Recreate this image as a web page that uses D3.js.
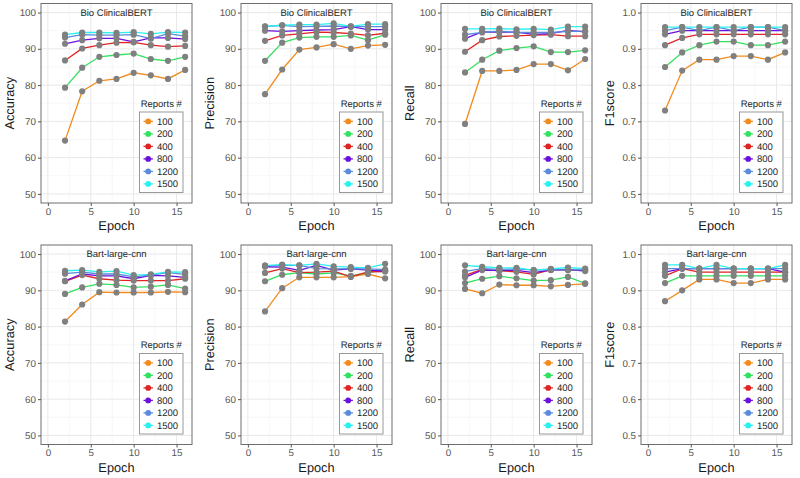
<!DOCTYPE html>
<html>
<head>
<meta charset="utf-8">
<script src="https://cdn.jsdelivr.net/npm/d3@7"></script>
<style>
  body { margin: 0; background: #fff; }
  svg { display: block; font-family: "Liberation Sans", Arial, Helvetica, sans-serif; text-rendering: geometricPrecision; }
</style>
</head>
<body>
<div class="chart"></div>
<script>
// epochs and report sizes shared by all panels
const epochs = [2, 4, 6, 8, 10, 12, 14, 16];
const reportSizes = ["100", "200", "400", "800", "1200", "1500"];
const seriesColors = ["#f28a1e", "#33e060", "#e02424", "#6c10dd", "#5a8add", "#2cf0f0"];

// one row per report size (100, 200, 400, 800, 1200, 1500)
const bioAccuracy = [
  [64.7, 78.3, 81.2, 81.7, 83.4, 82.7, 81.7, 84.2],
  [79.3, 84.8, 87.8, 88.3, 88.7, 87.2, 86.7, 87.8],
  [86.8, 90.1, 91.0, 91.7, 91.8, 91.0, 90.6, 90.8],
  [91.4, 92.4, 92.9, 92.9, 91.9, 93.0, 93.0, 92.7],
  [93.1, 93.9, 93.8, 93.8, 93.9, 92.8, 94.2, 93.5],
  [93.9, 94.5, 94.5, 94.4, 94.6, 94.1, 94.6, 94.5]
];
const bioPrecision = [
  [77.5, 84.3, 89.8, 90.4, 91.3, 90.0, 90.9, 91.1],
  [86.7, 91.7, 93.1, 93.3, 93.3, 93.7, 92.4, 93.9],
  [92.2, 93.7, 94.1, 94.6, 94.5, 94.2, 93.7, 94.3],
  [95.0, 94.8, 95.0, 95.2, 95.3, 96.1, 95.3, 95.3],
  [96.1, 96.5, 96.1, 96.2, 96.3, 96.1, 96.1, 96.1],
  [96.2, 96.5, 96.7, 96.7, 97.0, 96.2, 96.8, 96.8]
];
const bioRecall = [
  [69.3, 83.9, 83.9, 84.2, 85.8, 85.8, 84.1, 87.2],
  [83.5, 87.0, 89.5, 90.2, 90.7, 89.1, 89.1, 89.6],
  [89.2, 92.4, 93.4, 93.6, 93.8, 93.9, 93.5, 93.5],
  [92.8, 94.7, 94.6, 94.6, 94.0, 94.2, 95.1, 94.7],
  [93.9, 94.5, 94.9, 94.5, 94.5, 94.5, 94.8, 94.9],
  [95.5, 95.5, 95.6, 95.4, 95.5, 95.3, 96.1, 96.1]
];
const bioF1 = [
  [0.73, 0.84, 0.87, 0.87, 0.88, 0.88, 0.87, 0.89],
  [0.85, 0.89, 0.91, 0.92, 0.92, 0.91, 0.91, 0.92],
  [0.91, 0.93, 0.94, 0.94, 0.94, 0.94, 0.94, 0.94],
  [0.94, 0.95, 0.95, 0.95, 0.95, 0.95, 0.95, 0.95],
  [0.95, 0.96, 0.95, 0.96, 0.95, 0.96, 0.96, 0.95],
  [0.96, 0.96, 0.96, 0.96, 0.96, 0.96, 0.96, 0.96]
];
const bartAccuracy = [
  [81.4, 86.1, 89.5, 89.4, 89.4, 89.4, 89.6, 89.5],
  [89.0, 90.8, 91.8, 91.5, 90.8, 91.0, 91.5, 90.5],
  [92.5, 94.2, 93.2, 92.8, 92.7, 92.7, 92.7, 93.2],
  [92.6, 94.5, 94.0, 94.0, 93.2, 94.1, 94.0, 93.6],
  [94.6, 95.0, 94.5, 94.5, 93.7, 94.2, 94.9, 94.4],
  [95.4, 95.6, 95.1, 95.3, 94.2, 94.4, 95.1, 95.0]
];
const bartPrecision = [
  [84.2, 90.6, 93.6, 93.6, 93.6, 93.8, 94.5, 93.3],
  [92.5, 94.3, 94.9, 94.5, 94.8, 94.0, 94.9, 95.6],
  [94.8, 96.0, 94.9, 95.0, 95.3, 93.7, 95.1, 95.2],
  [96.5, 96.4, 95.5, 96.9, 95.6, 95.9, 95.6, 95.3],
  [96.8, 96.9, 96.9, 96.0, 95.9, 96.0, 95.9, 95.7],
  [96.8, 97.1, 96.9, 97.3, 96.6, 96.4, 96.2, 97.3]
];
const bartRecall = [
  [90.4, 89.2, 91.6, 91.4, 91.4, 91.1, 91.5, 91.8],
  [92.0, 93.2, 93.9, 93.3, 92.7, 92.8, 93.7, 91.9],
  [94.1, 95.8, 95.4, 95.1, 94.4, 95.7, 95.6, 95.5],
  [93.6, 95.6, 95.5, 95.5, 94.9, 95.6, 95.8, 95.3],
  [95.2, 96.0, 95.8, 95.9, 95.6, 95.7, 95.6, 95.7],
  [96.9, 96.5, 96.2, 96.2, 95.6, 95.9, 96.3, 96.0]
];
const bartF1 = [
  [0.87, 0.90, 0.93, 0.93, 0.92, 0.92, 0.93, 0.93],
  [0.92, 0.94, 0.94, 0.94, 0.94, 0.94, 0.94, 0.94],
  [0.94, 0.96, 0.95, 0.95, 0.95, 0.95, 0.95, 0.95],
  [0.95, 0.96, 0.96, 0.96, 0.96, 0.96, 0.96, 0.95],
  [0.96, 0.96, 0.96, 0.96, 0.96, 0.96, 0.96, 0.96],
  [0.97, 0.97, 0.96, 0.97, 0.96, 0.96, 0.96, 0.97]
];

const xTicks = [0, 5, 10, 15];
const pctTicks = [50, 60, 70, 80, 90, 100];
const f1Ticks = [0.5, 0.6, 0.7, 0.8, 0.9, 1.0];

const panels = [
  { title: "Bio ClinicalBERT", yLabel: "Accuracy", values: bioAccuracy, ticks: pctTicks },
  { title: "Bio ClinicalBERT", yLabel: "Precision", values: bioPrecision, ticks: pctTicks },
  { title: "Bio ClinicalBERT", yLabel: "Recall", values: bioRecall, ticks: pctTicks },
  { title: "Bio ClinicalBERT", yLabel: "F1score", values: bioF1, ticks: f1Ticks },
  { title: "Bart-large-cnn", yLabel: "Accuracy", values: bartAccuracy, ticks: pctTicks },
  { title: "Bart-large-cnn", yLabel: "Precision", values: bartPrecision, ticks: pctTicks },
  { title: "Bart-large-cnn", yLabel: "Recall", values: bartRecall, ticks: pctTicks },
  { title: "Bart-large-cnn", yLabel: "F1score", values: bartF1, ticks: f1Ticks }
];

const width = 800;
const height = 478;

const svg = d3.select(".chart").append("svg")
  .attr("width", width)
  .attr("height", height);

function drawPanel(panel, i) {
  const col = i % 4;
  const row = Math.floor(i / 4);
  const left = col * 200 + 41;
  const top = row * 241.5 + 3.5;
  const pw = 151;
  const ph = 199.5;

  const lo = panel.ticks[0], hi = panel.ticks[panel.ticks.length - 1];
  const pad = (hi - lo) * 0.05;
  const x = d3.scaleLinear().domain([-0.8, 16.8]).range([0, pw]);
  const y = d3.scaleLinear().domain([lo - pad, hi + pad]).range([ph, 0]);
  const step = panel.ticks[1] - panel.ticks[0];

  const g = svg.append("g").attr("transform", `translate(${left}, ${top})`);

  g.append("rect").attr("width", pw).attr("height", ph).attr("fill", "#fff");

  // minor grid
  const minorY = panel.ticks.slice(0, -1).map(t => t + step / 2);
  g.selectAll(".minor-y").data(minorY).enter().append("line")
    .attr("x1", 0).attr("x2", pw)
    .attr("y1", d => y(d)).attr("y2", d => y(d))
    .attr("stroke", "#f2f2f2").attr("stroke-width", 0.6);
  g.selectAll(".minor-x").data([2.5, 7.5, 12.5]).enter().append("line")
    .attr("y1", 0).attr("y2", ph)
    .attr("x1", d => x(d)).attr("x2", d => x(d))
    .attr("stroke", "#f2f2f2").attr("stroke-width", 0.6);
  // major grid
  g.selectAll(".major-y").data(panel.ticks).enter().append("line")
    .attr("x1", 0).attr("x2", pw)
    .attr("y1", d => y(d)).attr("y2", d => y(d))
    .attr("stroke", "#e8e8e8").attr("stroke-width", 1);
  g.selectAll(".major-x").data(xTicks).enter().append("line")
    .attr("y1", 0).attr("y2", ph)
    .attr("x1", d => x(d)).attr("x2", d => x(d))
    .attr("stroke", "#e8e8e8").attr("stroke-width", 1);

  const line = d3.line()
    .x((d, j) => x(epochs[j]))
    .y(d => y(d));

  // lines first, then all points on top (gray)
  panel.values.forEach((vals, s) => {
    g.append("path")
      .datum(vals)
      .attr("fill", "none")
      .attr("stroke", seriesColors[s])
      .attr("stroke-width", 1.3)
      .attr("d", line);
  });
  panel.values.forEach((vals) => {
    g.selectAll(null).data(vals).enter().append("circle")
      .attr("cx", (d, j) => x(epochs[j]))
      .attr("cy", d => y(d))
      .attr("r", 3.1)
      .attr("fill", "#808080");
  });

  // title inside panel
  g.append("text")
    .attr("x", x(8)).attr("y", y(hi))
    .attr("dy", "0.35em")
    .attr("text-anchor", "middle")
    .attr("font-size", 9.5)
    .attr("fill", "#262626")
    .text(panel.title);

  g.append("rect").attr("width", pw).attr("height", ph)
    .attr("fill", "none").attr("stroke", "#6e6e6e").attr("stroke-width", 1);

  // axes
  const yAxis = d3.axisLeft(y)
    .tickValues(panel.ticks)
    .tickSize(3)
    .tickPadding(2)
    .tickFormat(panel.ticks === f1Ticks ? d3.format(".1f") : d3.format("d"));
  const xAxis = d3.axisBottom(x)
    .tickValues(xTicks)
    .tickSize(3)
    .tickPadding(2);

  const gY = g.append("g").call(yAxis);
  const gX = g.append("g").attr("transform", `translate(0, ${ph})`).call(xAxis);
  [gX, gY].forEach(a => {
    a.select(".domain").remove();
    a.selectAll("line").attr("stroke", "#555");
    a.selectAll("text")
      .attr("font-size", 9.8)
      .attr("font-family", "Liberation Sans, Arial, sans-serif")
      .attr("fill", "#555");
  });

  g.append("text")
    .attr("x", pw / 2).attr("y", ph + 27)
    .attr("text-anchor", "middle")
    .attr("font-size", 12.8)
    .attr("fill", "#1a1a1a")
    .text("Epoch");

  g.append("text")
    .attr("transform", `translate(${-31}, ${ph / 2}) rotate(-90)`)
    .attr("text-anchor", "middle")
    .attr("dy", "0.35em")
    .attr("font-size", 12.8)
    .attr("fill", "#1a1a1a")
    .text(panel.yLabel);

  // legend
  const boxW = 43.5, boxH = 80.5;
  const bx = pw - 9 - boxW, by = ph - 10.5 - boxH;
  const leg = g.append("g").attr("transform", `translate(${bx}, ${by})`);
  leg.append("text")
    .attr("x", boxW / 2).attr("y", -8.5)
    .attr("dy", "0.35em")
    .attr("text-anchor", "middle")
    .attr("font-size", 9.5)
    .attr("fill", "#262626")
    .text("Reports #");
  leg.append("rect").attr("width", boxW).attr("height", boxH)
    .attr("fill", "#fff").attr("stroke", "#999").attr("stroke-width", 1);
  const items = leg.selectAll(".item").data(reportSizes).enter().append("g")
    .attr("transform", (d, k) => `translate(0, ${9.4 + k * 12.5})`);
  items.append("line")
    .attr("x1", 4).attr("x2", 13.4)
    .attr("stroke", (d, k) => seriesColors[k]).attr("stroke-width", 1.3);
  items.append("circle")
    .attr("cx", 8.7).attr("r", 2.9)
    .attr("fill", (d, k) => seriesColors[k]);
  items.append("text")
    .attr("x", 17.4).attr("dy", "0.35em")
    .attr("font-size", 9.5)
    .attr("fill", "#262626")
    .text(d => d);
}

panels.forEach((p, i) => drawPanel(p, i));
</script>
</body>
</html>
